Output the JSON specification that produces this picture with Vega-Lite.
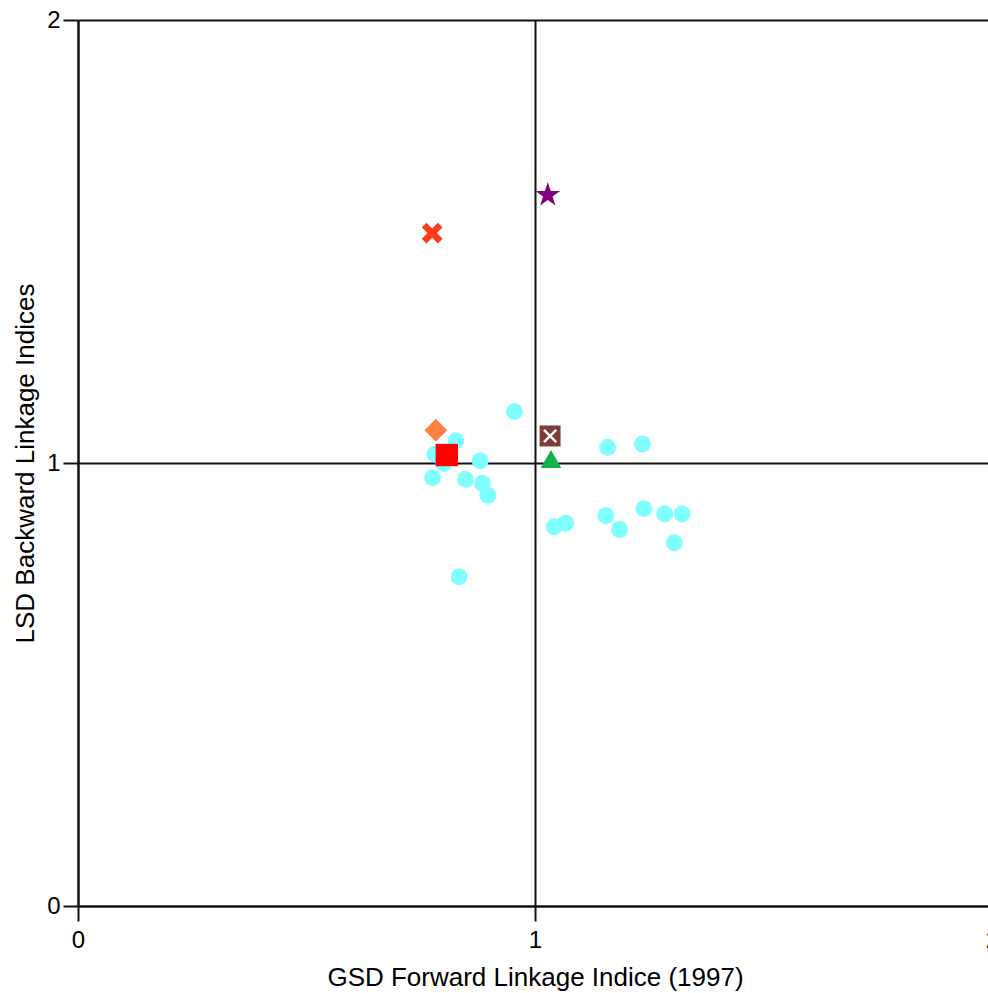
{
  "$schema": "https://vega.github.io/schema/vega-lite/v6.json",
  "autosize": "none",
  "padding": {"left": 78, "top": 20, "right": 0, "bottom": 87},
  "width": 914,
  "height": 886,
  "background": "white",
  "config": {"view": {"stroke": null}, "font": "Liberation Sans"},
  "data": {
    "values": [
      {"x": 0.955, "y": 1.116, "series": "Other"},
      {"x": 0.827, "y": 1.050, "series": "Other"},
      {"x": 0.781, "y": 1.020, "series": "Other"},
      {"x": 0.800, "y": 0.999, "series": "Other"},
      {"x": 0.880, "y": 1.005, "series": "Other"},
      {"x": 0.776, "y": 0.967, "series": "Other"},
      {"x": 0.848, "y": 0.963, "series": "Other"},
      {"x": 0.885, "y": 0.954, "series": "Other"},
      {"x": 0.897, "y": 0.927, "series": "Other"},
      {"x": 0.834, "y": 0.743, "series": "Other"},
      {"x": 1.042, "y": 0.856, "series": "Other"},
      {"x": 1.067, "y": 0.864, "series": "Other"},
      {"x": 1.159, "y": 1.035, "series": "Other"},
      {"x": 1.235, "y": 1.043, "series": "Other"},
      {"x": 1.155, "y": 0.881, "series": "Other"},
      {"x": 1.185, "y": 0.850, "series": "Other"},
      {"x": 1.238, "y": 0.897, "series": "Other"},
      {"x": 1.284, "y": 0.885, "series": "Other"},
      {"x": 1.322, "y": 0.885, "series": "Other"},
      {"x": 1.305, "y": 0.820, "series": "Other"},
      {"x": 0.775, "y": 1.519, "series": "A"},
      {"x": 1.028, "y": 1.605, "series": "B"},
      {"x": 0.783, "y": 1.074, "series": "C"},
      {"x": 0.807, "y": 1.018, "series": "D"},
      {"x": 1.033, "y": 1.061, "series": "E"},
      {"x": 1.035, "y": 1.009, "series": "F"}
    ]
  },
  "encoding": {
    "x": {
      "field": "x", "type": "quantitative",
      "scale": {"domain": [0, 2], "nice": false, "zero": false},
      "axis": {
        "title": "GSD Forward Linkage Indice (1997)",
        "tickCount": 2, "format": "d",
        "grid": true, "gridColor": "#111", "gridWidth": 2, "gridOpacity": 1,
        "domainColor": "#111", "domainWidth": 2,
        "tickColor": "#111", "tickWidth": 2, "tickSize": 15,
        "labelFont": "Liberation Sans", "labelFontSize": 24, "labelColor": "#000",
        "labelPadding": 7, "labelFlush": false, "labelOverlap": false,
        "titleFont": "Liberation Sans", "titleFontSize": 26, "titleFontWeight": "normal",
        "titleColor": "#000", "titleBaseline": "alphabetic", "titleY": 79
      }
    },
    "y": {
      "field": "y", "type": "quantitative",
      "scale": {"domain": [0, 2], "nice": false, "zero": false},
      "axis": {
        "title": "LSD Backward Linkage Indices",
        "tickCount": 2, "format": "d",
        "grid": true, "gridColor": "#111", "gridWidth": 2, "gridOpacity": 1,
        "domainColor": "#111", "domainWidth": 2,
        "tickColor": "#111", "tickWidth": 2, "tickSize": 15,
        "labelFont": "Liberation Sans", "labelFontSize": 24, "labelColor": "#000",
        "labelPadding": 3, "labelFlush": false, "labelOverlap": false,
        "titleFont": "Liberation Sans", "titleFontSize": 26, "titleFontWeight": "normal",
        "titleColor": "#000", "titleBaseline": "alphabetic", "titleX": -45
      }
    }
  },
  "layer": [
    {
      "mark": {"type": "point", "filled": true, "opacity": 1},
      "encoding": {
        "color": {
          "field": "series", "type": "nominal", "legend": null,
          "scale": {
            "domain": ["Other", "A", "B", "C", "D", "E", "F"],
            "range": ["#7FFFFF", "#FF3A1A", "#800080", "#FF8040", "#FF0000", "#7F3A3A", "#14B04A"]
          }
        },
        "shape": {
          "field": "series", "type": "nominal", "legend": null,
          "scale": {
            "domain": ["Other", "A", "B", "C", "D", "E", "F"],
            "range": [
              "circle",
              "M-1,-0.55L-0.55,-1L0,-0.45L0.55,-1L1,-0.55L0.45,0L1,0.55L0.55,1L0,0.45L-0.55,1L-1,0.55L-0.45,0Z",
              "M0,-1L0.2245,-0.309L0.9511,-0.309L0.3633,0.118L0.5878,0.809L0,0.382L-0.5878,0.809L-0.3633,0.118L-0.9511,-0.309L-0.2245,-0.309Z",
              "diamond",
              "square",
              "square",
              "triangle-up"
            ]
          }
        },
        "size": {
          "field": "series", "type": "nominal", "legend": null,
          "scale": {
            "type": "ordinal",
            "domain": ["Other", "A", "B", "C", "D", "E", "F"],
            "range": [285, 430, 680, 520, 500, 440, 430]
          }
        }
      }
    },
    {
      "transform": [{"filter": "datum.series === 'E'"}],
      "mark": {
        "type": "point", "filled": false, "stroke": "white", "strokeWidth": 2.5,
        "opacity": 1, "size": 150,
        "shape": "M-1,-1L1,1M1,-1L-1,1"
      }
    }
  ]
}
